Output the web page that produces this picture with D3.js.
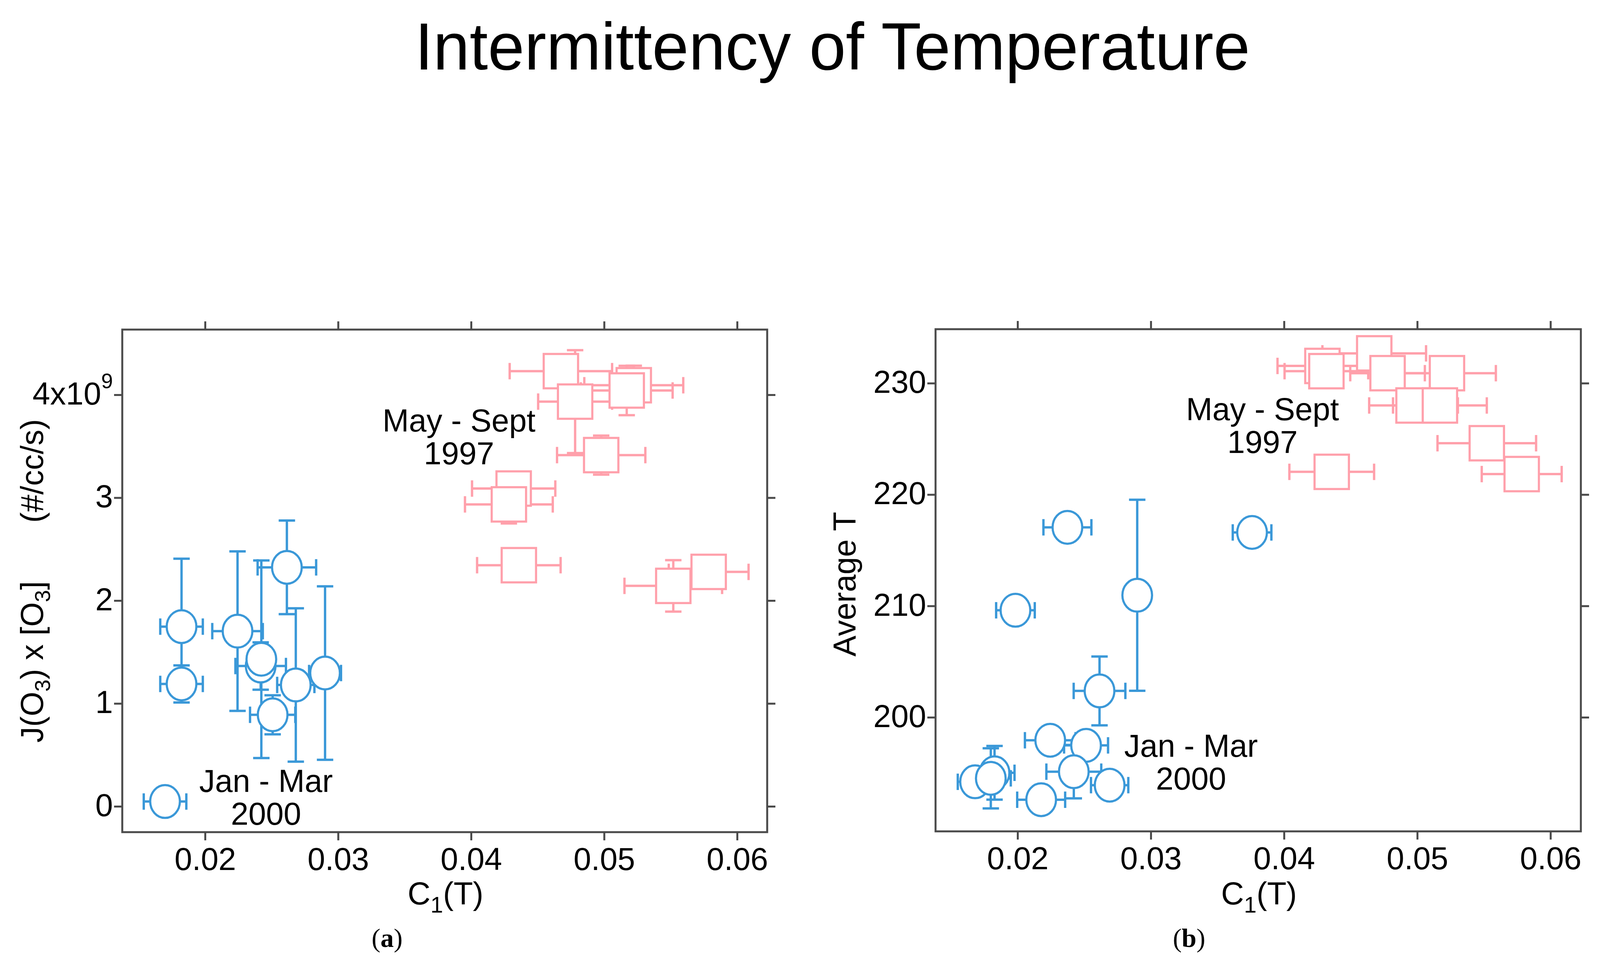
<!DOCTYPE html>
<html>
<head>
<meta charset="utf-8">
<script src="https://cdn.jsdelivr.net/npm/d3@7"></script>
<style>
  html, body { margin: 0; padding: 0; background: #ffffff; }
  svg { display: block; }
  text { font-family: "Liberation Sans", Arial, Helvetica, sans-serif; fill: #000; }
</style>
</head>
<body>
<svg id="chart" width="4102" height="2461"></svg>
<script>
// ---------------- data ----------------
const titleText = "Intermittency of Temperature";
const xTickValues = [0.02, 0.03, 0.04, 0.05, 0.06];
const xTickLabels = ["0.02", "0.03", "0.04", "0.05", "0.06"];
const yTicksA = [0, 1, 2, 3, 4];
const yTickLabelsA = ["0", "1", "2", "3", "4x10"];
const yTicksB = [200, 210, 220, 230];
const yTickLabelsB = ["200", "210", "220", "230"];

// Panel (a): J(O3) x [O3] vs C1(T)
const aWinterC1    = [0.01823, 0.01823, 0.02244, 0.02615, 0.02418, 0.02423, 0.02508, 0.02682, 0.02902, 0.01699];
const aWinterJ     = [1.747, 1.190, 1.703, 2.323, 1.364, 1.430, 0.890, 1.180, 1.296, 0.047];
const aWinterC1Err = [0.0016, 0.0016, 0.0019, 0.0022, 0.0019, 0.0008, 0.0017, 0.0014, 0.0012, 0.0016];
const aWinterJErr  = [0.66, 0.18, 0.775, 0.455, 0.23, 0.96, 0.19, 0.745, 0.843, 0.10];

const aSummerC1    = [0.04675, 0.04782, 0.05223, 0.05170, 0.04978, 0.04320, 0.04284, 0.04359, 0.05520, 0.05786];
const aSummerJ     = [4.230, 3.934, 4.093, 4.042, 3.414, 3.089, 2.935, 2.344, 2.143, 2.279];
const aSummerC1Err = [0.00385, 0.00278, 0.00372, 0.00345, 0.00332, 0.00313, 0.00330, 0.00314, 0.00367, 0.00300];
const aSummerJErr  = [0.12, 0.50, 0.19, 0.24, 0.19, 0.12, 0.185, 0.12, 0.25, 0.12];

// Panel (b): Average T vs C1(T)
const bWinterC1    = [0.02374, 0.03760, 0.01984, 0.02898, 0.02615, 0.02245, 0.02514, 0.01827, 0.01681, 0.01799, 0.02422, 0.02177, 0.02691];
const bWinterT     = [217.06, 216.60, 209.61, 210.96, 202.37, 197.94, 197.48, 195.02, 194.21, 194.52, 195.12, 192.60, 193.91];
const bWinterC1Err = [0.0018, 0.00145, 0.00145, 0.0008, 0.00194, 0.0019, 0.00165, 0.0015, 0.0013, 0.0015, 0.00206, 0.0018, 0.0014];
const bWinterTErr  = [0.5, 0.5, 0.5, 8.58, 3.09, 0.6, 0.6, 2.41, 0.8, 2.7, 2.4, 0.6, 0.6];

const bSummerC1    = [0.04288, 0.04318, 0.04677, 0.04777, 0.05223, 0.04972, 0.05170, 0.05522, 0.05784, 0.04358];
const bSummerT     = [231.55, 231.08, 232.68, 230.90, 230.90, 228.00, 228.00, 224.61, 221.84, 222.04];
const bSummerC1Err = [0.00337, 0.00314, 0.00389, 0.00280, 0.00367, 0.00333, 0.00352, 0.00370, 0.00300, 0.00318];
const bSummerTErr  = [0.8, 0.8, 0.8, 0.8, 0.8, 0.8, 0.8, 0.8, 0.8, 0.8];

// ---------------- style ----------------
const BLUE = "#3a98d8";
const PINK = "#ffa0ab";
const FRAME = "#4a4a4a";
const FS = 81;
const SANS = '"Liberation Sans", Arial, sans-serif';

const svg = d3.select("#chart");
svg.append("rect").attr("width", 4102).attr("height", 2461).attr("fill", "#fff");

svg.append("text")
  .attr("x", 2131).attr("y", 178)
  .attr("text-anchor", "middle")
  .attr("font-size", 170)
  .attr("textLength", 2138).attr("lengthAdjust", "spacingAndGlyphs")
  .text(titleText);

function zip(xs, ys, xe, ye) {
  return xs.map((x, i) => ({ x: x, y: ys[i], xe: xe[i], ye: ye[i] }));
}

function drawPanel(cfg) {
  const x = d3.scaleLinear().domain(cfg.xDomain).range([cfg.left, cfg.right]);
  const y = d3.scaleLinear().domain(cfg.yDomain).range([cfg.bottom, cfg.top]);
  const g = svg.append("g");

  const tick = 21;
  const bottomAxis = d3.axisBottom(x).tickValues(xTickValues)
    .tickFormat((d, i) => xTickLabels[i]).tickSize(tick).tickSizeOuter(0);
  const gb = g.append("g").attr("transform", `translate(0,${cfg.bottom})`).call(bottomAxis);
  gb.selectAll("text").attr("y", 97).attr("dy", 0).attr("font-size", FS).style("font-family", SANS);

  const topAxis = d3.axisTop(x).tickValues(xTickValues).tickFormat("").tickSize(tick).tickSizeOuter(0);
  g.append("g").attr("transform", `translate(0,${cfg.top})`).call(topAxis);

  const leftAxis = d3.axisLeft(y).tickValues(cfg.yTicks)
    .tickFormat((d, i) => cfg.yTickLabels[i]).tickSize(tick).tickSizeOuter(0);
  const gl = g.append("g").attr("transform", `translate(${cfg.left},0)`).call(leftAxis);
  gl.selectAll("text").attr("x", -24).attr("dy", "0.3em").attr("font-size", FS).style("font-family", SANS);
  if (cfg.supLabel) {
    gl.selectAll(".tick text").filter((d, i) => i === cfg.yTicks.length - 1)
      .append("tspan")
      .attr("font-size", 54)
      .attr("dy", -42)
      .text(cfg.supLabel);
  }

  const rightAxis = d3.axisRight(y).tickValues(cfg.yTicks).tickFormat("").tickSize(tick).tickSizeOuter(0);
  g.append("g").attr("transform", `translate(${cfg.right},0)`).call(rightAxis);

  g.selectAll(".domain").remove();
  g.selectAll(".tick line").attr("stroke", FRAME).attr("stroke-width", 5);

  g.append("rect")
    .attr("x", cfg.left).attr("y", cfg.top)
    .attr("width", cfg.right - cfg.left).attr("height", cfg.bottom - cfg.top)
    .attr("fill", "none").attr("stroke", FRAME).attr("stroke-width", 5);

  // error bars
  const cap = 21;
  const eb = g.append("g");
  cfg.series.forEach(s => {
    s.data.forEach(d => {
      const cx = x(d.x), cy = y(d.y);
      const x0 = x(d.x - d.xe), x1 = x(d.x + d.xe);
      const y0 = y(d.y - d.ye), y1 = y(d.y + d.ye);
      const line = (a, b, c, e) => eb.append("line")
        .attr("x1", a).attr("y1", b).attr("x2", c).attr("y2", e)
        .attr("stroke", s.color).attr("stroke-width", 6);
      line(x0, cy, x1, cy);
      line(x0, cy - cap, x0, cy + cap);
      line(x1, cy - cap, x1, cy + cap);
      line(cx, y0, cx, y1);
      line(cx - cap, y0, cx + cap, y0);
      line(cx - cap, y1, cx + cap, y1);
    });
  });

  // markers
  const mk = g.append("g");
  cfg.series.forEach(s => {
    if (s.shape === "circle") {
      mk.selectAll(null).data(s.data).enter().append("ellipse")
        .attr("cx", d => x(d.x)).attr("cy", d => y(d.y))
        .attr("rx", 38).attr("ry", 42)
        .attr("fill", "#fff").attr("stroke", s.color).attr("stroke-width", 5.5);
    } else {
      mk.selectAll(null).data(s.data).enter().append("rect")
        .attr("x", d => x(d.x) - 44).attr("y", d => y(d.y) - 44)
        .attr("width", 88).attr("height", 88)
        .attr("fill", "#fff").attr("stroke", s.color).attr("stroke-width", 5.5);
    }
  });

  // x label C1(T)
  const xl = g.append("text")
    .attr("x", (cfg.left + cfg.right) / 2 + 2).attr("y", 2316)
    .attr("text-anchor", "middle").attr("font-size", FS);
  xl.append("tspan").text("C");
  xl.append("tspan").attr("font-size", 58).attr("dy", 21).text("1");
  xl.append("tspan").attr("dy", -21).text("(T)");

  // annotations (two lines in one text)
  cfg.notes.forEach(n => {
    const t = g.append("text").attr("x", n.x).attr("y", n.y)
      .attr("text-anchor", "middle").attr("font-size", FS);
    t.append("tspan").attr("x", n.x).text(n.l1);
    t.append("tspan").attr("x", n.x).attr("dy", n.gap).text(n.l2);
  });

  // caption
  const cap2 = g.append("text")
    .attr("x", cfg.captionX).attr("y", 2425)
    .attr("text-anchor", "middle").attr("font-size", 68)
    .style("font-family", '"Liberation Serif", "Times New Roman", serif');
  cap2.append("tspan").text("(");
  cap2.append("tspan").attr("font-weight", "bold").text(cfg.caption);
  cap2.append("tspan").text(")");

  return { x, y, g };
}

// Panel (a)
drawPanel({
  left: 313, right: 1964, top: 844, bottom: 2131,
  xDomain: [0.013774, 0.06226], yDomain: [-0.2505, 4.634],
  yTicks: yTicksA, yTickLabels: yTickLabelsA, supLabel: "9",
  series: [
    { shape: "circle", color: BLUE, data: zip(aWinterC1, aWinterJ, aWinterC1Err, aWinterJErr) },
    { shape: "square", color: PINK, data: zip(aSummerC1, aSummerJ, aSummerC1Err, aSummerJErr) }
  ],
  notes: [
    { l1: "May - Sept", l2: "1997", x: 1175, y: 1105, gap: 84 },
    { l1: "Jan - Mar", l2: "2000", x: 681, y: 2028, gap: 84 }
  ],
  captionX: 991, caption: "a"
});

// Panel (b)
drawPanel({
  left: 2395, right: 4047, top: 843, bottom: 2129,
  xDomain: [0.013842, 0.06228], yDomain: [189.76, 234.85],
  yTicks: yTicksB, yTickLabels: yTickLabelsB, supLabel: null,
  series: [
    { shape: "circle", color: BLUE, data: zip(bWinterC1, bWinterT, bWinterC1Err, bWinterTErr) },
    { shape: "square", color: PINK, data: zip(bSummerC1, bSummerT, bSummerC1Err, bSummerTErr) }
  ],
  notes: [
    { l1: "May - Sept", l2: "1997", x: 3232, y: 1076, gap: 84 },
    { l1: "Jan - Mar", l2: "2000", x: 3049, y: 1938, gap: 84 }
  ],
  captionX: 3044, caption: "b"
});

// y axis labels
svg.append("text")
  .attr("transform", "translate(110,1206) rotate(-90)")
  .attr("text-anchor", "middle").attr("font-size", FS)
  .text("(#/cc/s)");

const jl = svg.append("text")
  .attr("transform", "translate(110,1695) rotate(-90)")
  .attr("text-anchor", "middle").attr("font-size", FS);
jl.append("tspan").text("J(O");
jl.append("tspan").attr("font-size", 56).attr("dy", 18).text("3");
jl.append("tspan").attr("dy", -18).text(") x [O");
jl.append("tspan").attr("font-size", 56).attr("dy", 18).text("3");
jl.append("tspan").attr("dy", -18).text("]");

svg.append("text")
  .attr("transform", "translate(2190,1496) rotate(-90)")
  .attr("text-anchor", "middle").attr("font-size", FS)
  .text("Average T");
</script>
</body>
</html>
